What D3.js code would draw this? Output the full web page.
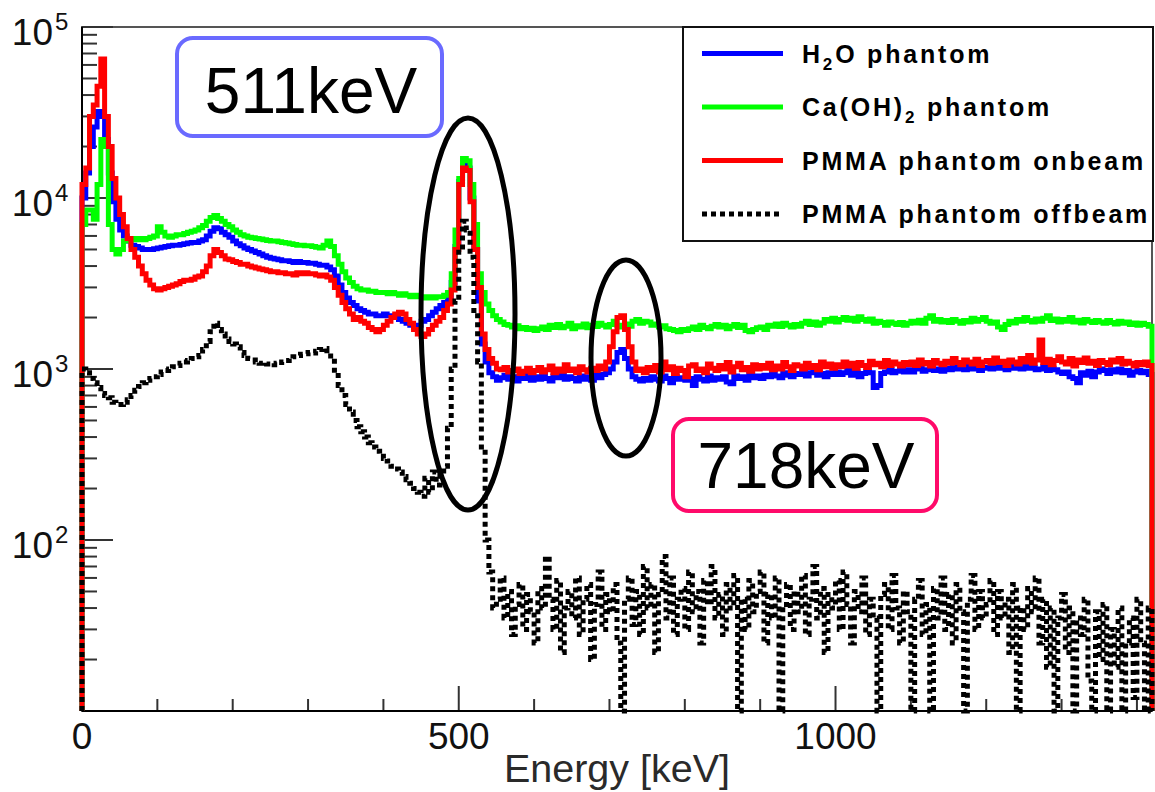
<!DOCTYPE html>
<html><head><meta charset="utf-8">
<script src="https://cdn.jsdelivr.net/npm/d3@7"></script>
<style>
body{margin:0;background:#fff;}
svg{display:block;}
text{font-family:"Liberation Sans",Arial,Helvetica,sans-serif;}
</style>
</head><body>
<svg id="chart" width="1155" height="792"></svg>
<script>
// ---- data (5 keV bins, 0..1420 keV) ----
const binWidth = 5;
const energyMax = 1420;

const h2o = [
 10000,14000,20000,26000,32000,30000,22000,14000,9500,7500,
 6500,6000,5600,5300,5200,5100,5000,5000,5000,5050,
 5100,5150,5200,5250,5300,5300,5350,5400,5450,5500,
 5500,5600,5700,6000,6400,6700,6600,6300,6100,5900,
 5600,5400,5250,5100,5000,4900,4800,4700,4600,4500,
 4450,4400,4350,4300,4300,4250,4200,4250,4200,4200,
 4150,4150,4100,4050,4050,3950,3800,3500,3100,2800,
 2600,2450,2350,2250,2200,2150,2100,2100,2050,2050,
 2100,2050,2050,2000,1950,1900,1850,1800,1750,1800,
 1900,1950,2050,2150,2250,2350,2450,2600,3200,5200,
 12500,15500,15000,10000,5000,2500,1400,1100,950,900,
 860,890,920,870,900,850,910,880,920,860,
 900,870,930,880,850,910,890,920,870,900,
 880,850,910,870,900,860,920,890,930,950,
 1000,1100,1250,1300,1150,1000,900,870,850,880,
 860,900,870,850,910,880,830,900,870,890,
 860,880,800,900,870,850,910,860,890,870,
 900,840,820,910,880,900,860,930,890,910,
 880,920,900,940,910,890,950,920,900,940,
 930,960,910,950,970,920,940,900,950,930,
 960,930,950,980,920,960,900,940,970,950,
 780,800,940,960,990,950,970,1000,960,990,
 960,1000,1010,970,990,1020,980,1000,970,1010,
 990,1030,1000,1020,990,1040,1000,1020,980,1010,
 1020,1000,1040,1010,1030,990,1040,1010,1030,1000,
 1040,1010,1020,990,1000,1030,980,1010,990,960,
 940,960,900,880,830,950,920,970,900,960,
 1000,980,940,990,960,1000,950,980,920,960,
 980,950,970,930
];

const caoh2 = [
 7000,8500,8500,7500,12000,22000,20000,7000,5000,4700,
 5000,5600,5700,5800,5700,5800,5700,5800,5900,6000,
 6800,6300,6000,5900,6000,6100,6100,6200,6300,6400,
 6500,6700,6900,7300,7700,7900,7600,7300,7000,6800,
 6500,6300,6100,6000,5900,5850,5800,5750,5700,5650,
 5600,5600,5550,5500,5450,5400,5350,5300,5300,5250,
 5250,5200,5150,5100,5300,5600,5200,4600,4100,3700,
 3400,3200,3050,2950,2900,2900,2850,2850,2800,2800,
 2800,2750,2800,2750,2700,2750,2700,2650,2700,2650,
 2650,2600,2650,2600,2650,2650,2700,2800,3600,6500,
 13000,17000,16500,12000,7000,3600,2800,2400,2200,2050,
 1950,1880,1820,1800,1760,1790,1720,1750,1700,1730,
 1680,1720,1760,1700,1800,1750,1820,1740,1780,1850,
 1720,1790,1760,1830,1740,1800,1770,1850,1800,1760,
 1820,1900,1800,1760,1830,1780,1900,1950,1850,1900,
 1880,1800,1830,1760,1790,1720,1700,1680,1650,1700,
 1680,1720,1760,1700,1800,1750,1720,1780,1820,1760,
 1800,1720,1780,1820,1750,1800,1680,1650,1700,1740,
 1760,1700,1800,1780,1830,1770,1850,1800,1760,1820,
 1780,1850,1900,1820,1880,1800,1860,1950,1900,1980,
 1880,1950,2000,1930,1980,1900,2020,1950,1900,1960,
 1850,1900,1870,1800,1880,1850,1820,1870,1800,1850,
 1900,1860,1930,1850,1980,2050,1900,1950,1880,1920,
 1870,1950,1900,1850,1920,1880,1980,1900,1950,2000,
 1900,1850,1880,1760,1700,1820,1900,1860,1950,1900,
 2000,1920,1880,1960,1900,1980,2050,1920,1960,1880,
 1950,1900,2000,1880,1930,1860,1950,1900,1870,1920,
 1880,1850,1920,1870,1830,1900,1850,1880,1820,1860,
 1800,1850,1820,1780
];

const pmmaOn = [
 12000,15000,30000,35000,45000,65000,30000,20000,13000,10000,
 8000,6800,5800,5000,4500,4000,3600,3300,3100,2950,
 2900,2950,3000,3050,3100,3150,3250,3300,3300,3350,
 3450,3500,3700,4000,4600,5000,4800,4600,4400,4350,
 4250,4200,4100,4100,4000,3950,3900,3850,3800,3750,
 3700,3700,3650,3650,3600,3600,3550,3650,3600,3650,
 3600,3600,3550,3500,3550,3450,3300,3000,2700,2450,
 2250,2100,1950,2000,1900,1850,1750,1700,1650,1700,
 1800,1900,2000,2100,2150,2100,1950,1850,1700,1600,
 1550,1600,1700,1800,1900,2000,2200,2400,2900,5000,
 12000,15000,14500,9500,5000,3000,1600,1300,1150,1080,
 1000,990,1020,960,980,1000,940,970,1010,950,
 980,1020,960,990,1040,950,1000,970,1060,980,
 1000,950,1030,990,960,1010,980,1040,1000,1100,
 1350,1650,2000,2050,1700,1350,1100,980,1000,950,
 1020,980,1050,960,1100,990,1030,940,1010,980,
 900,1040,1060,980,1000,950,1070,1010,980,1050,
 1000,1090,960,1030,1080,990,1020,970,1060,1000,
 1050,1010,1080,990,1040,1000,1090,1030,980,1060,
 1040,1000,1080,1020,1050,990,1100,1030,1070,1010,
 1060,1030,1100,1040,1080,1010,1090,1050,1020,1110,
 1060,1080,1030,1120,1050,1100,1070,1040,1090,1060,
 1100,1050,1130,1070,1090,1040,1120,1080,1060,1110,
 1080,1150,1090,1060,1130,1100,1070,1140,1050,1100,
 1120,1080,1160,1090,1110,1050,1130,1100,1070,1150,
 1100,1200,1080,1130,1480,1090,1140,1060,1120,1180,
 1100,1070,1150,1040,1130,1090,1160,1080,1110,1050,
 1120,1090,1060,1130,1100,1150,1070,1110,1080,1040,
 1090,1060,1100,1050
];

const pmmaOff = [
 1000,950,880,830,780,720,700,680,640,620,
 620,640,660,700,750,790,830,860,880,900,
 930,960,980,1000,1030,1050,1080,1100,1120,1150,
 1180,1200,1300,1450,1650,1850,1700,1600,1500,1450,
 1400,1350,1250,1200,1150,1130,1100,1080,1090,1070,
 1080,1060,1090,1100,1120,1150,1180,1200,1220,1230,
 1250,1240,1270,1300,1320,1280,1150,950,800,700,
 620,560,500,460,430,400,370,350,330,320,
 300,290,270,260,250,235,225,215,200,190,
 180,230,190,250,210,240,270,450,1000,2500,
 5000,7300,6500,4500,2200,1100,350,100,65,40,
 45,60,35,50,28,42,55,30,48,38,
 25,52,40,80,45,30,58,22,40,50,
 35,60,28,45,55,20,42,65,30,48,
 38,55,25,5,45,60,32,50,28,70,
 40,55,22,48,80,35,60,28,45,52,
 30,65,38,50,25,58,42,70,35,48,
 28,55,40,62,5,45,30,58,38,50,
 65,25,48,35,60,6,42,55,30,50,
 38,62,28,45,70,35,52,22,48,40,
 58,30,65,42,25,50,38,60,28,45,
 35,5,48,55,30,62,40,25,50,38,
 6,45,58,28,42,5,52,35,60,30,
 48,25,55,38,5,45,62,30,50,35,
 42,58,28,50,35,45,22,55,6,40,
 30,52,38,60,25,45,18,40,5,35,
 48,22,40,5,35,28,45,15,5,38,
 20,42,5,30,18,40,6,25,35,12,
 45,25,5,40
];

const xMajorTicks = [0, 500, 1000];
const xMinorTicks = [100, 200, 300, 400, 600, 700, 800, 900, 1100, 1200, 1300, 1400];
const yDecadeExps = [2, 3, 4, 5];
const yMinorMultipliers = [2, 3, 4, 5, 6, 7, 8, 9];
const xAxisTitle = "Energy [keV]";

const legendItems = [
  {parts: [["H",""],["2","sub"],["O phantom",""]], color: "#0000ff", dash: null},
  {parts: [["Ca(OH)",""],["2","sub"],[" phantom",""]], color: "#00ff00", dash: null},
  {parts: [["PMMA phantom onbeam",""]], color: "#ff0000", dash: null},
  {parts: [["PMMA phantom offbeam",""]], color: "#000000", dash: "5,4"}
];
const series = [
  {values: h2o, color: "#0000ff", width: 5, dash: null},
  {values: caoh2, color: "#00ff00", width: 5, dash: null},
  {values: pmmaOn, color: "#ff0000", width: 5, dash: null},
  {values: pmmaOff, color: "#000000", width: 5, dash: "5,4"}
];
const annotations = [
  {text: "511keV", color: "#6a6aff", box: [177, 38, 442, 136], tx: 311, ty: 113},
  {text: "718keV", color: "#ff0a6a", box: [673, 419, 937, 511], tx: 806, ty: 488}
];

// ---- layout ----
const svg = d3.select("#chart");
const L = 82, R = 1152, T = 27, B = 711;
const x = d3.scaleLinear().domain([0, energyMax]).range([L, R]);
const y = d3.scaleLog().domain([10, 1e5]).range([B, T]).clamp(true);

svg.append("defs").append("clipPath").attr("id", "plotclip")
  .append("rect").attr("x", L - 4).attr("y", T).attr("width", R - L + 8).attr("height", B - T + 3);

// frame
svg.append("rect").attr("x", L).attr("y", T).attr("width", R - L).attr("height", B - T)
  .attr("fill", "none").attr("stroke", "#555").attr("stroke-width", 2);

// ticks
const tickG = svg.append("g").attr("stroke", "#333").attr("stroke-width", 2);
xMajorTicks.forEach(v => tickG.append("line").attr("x1", x(v)).attr("x2", x(v)).attr("y1", B).attr("y2", B - 25));
xMinorTicks.forEach(v => tickG.append("line").attr("x1", x(v)).attr("x2", x(v)).attr("y1", B).attr("y2", B - 12));
yDecadeExps.forEach(e => tickG.append("line").attr("x1", L).attr("x2", L + 31).attr("y1", y(Math.pow(10, e))).attr("y2", y(Math.pow(10, e))));
[1, 2, 3, 4].forEach(e => yMinorMultipliers.forEach(m => {
  const v = m * Math.pow(10, e);
  tickG.append("line").attr("x1", L).attr("x2", L + 15).attr("y1", y(v)).attr("y2", y(v));
}));

// axis lines
svg.append("line").attr("x1", L).attr("x2", L).attr("y1", T).attr("y2", B).attr("stroke", "#000").attr("stroke-width", 2);
svg.append("line").attr("x1", L).attr("x2", R).attr("y1", B).attr("y2", B).attr("stroke", "#000").attr("stroke-width", 2);

// x tick labels
xMajorTicks.forEach(v => svg.append("text").attr("x", x(v)).attr("y", 749)
  .attr("text-anchor", "middle").attr("font-size", 37).attr("fill", "#111").text(v));
svg.append("text").attr("x", 617).attr("y", 782).attr("text-anchor", "middle")
  .attr("font-size", 39.5).attr("fill", "#2a2a2a").text(xAxisTitle);

// y tick labels
yDecadeExps.forEach(e => {
  const ty = y(Math.pow(10, e));
  svg.append("text").attr("x", 53).attr("y", ty + 18).attr("text-anchor", "end")
    .attr("font-size", 37).attr("fill", "#111").text("10");
  svg.append("text").attr("x", 55).attr("y", ty + 3).attr("text-anchor", "start")
    .attr("font-size", 24).attr("fill", "#111").text(e);
});

// series
const line = d3.line().x(d => x(d[0])).y(d => y(d[1])).curve(d3.curveStepAfter);
function stepPoints(vals) {
  const pts = [[0, 1]];
  vals.forEach((v, i) => pts.push([i * binWidth, v]));
  pts.push([vals.length * binWidth, vals[vals.length - 1]]);
  pts.push([vals.length * binWidth, 1]);
  return pts;
}
const dataG = svg.append("g").attr("clip-path", "url(#plotclip)");
series.forEach(s => {
  dataG.append("path").attr("d", line(stepPoints(s.values)))
    .attr("fill", "none").attr("stroke", s.color).attr("stroke-width", s.width)
    .attr("stroke-dasharray", s.dash).attr("stroke-linejoin", "miter");
});

// legend
const lg = svg.append("g");
lg.append("rect").attr("x", 683).attr("y", 27).attr("width", 470).attr("height", 214)
  .attr("fill", "#fff").attr("stroke", "#111").attr("stroke-width", 2);
legendItems.forEach((it, i) => {
  const ly = 53.5 + i * 53.5;
  lg.append("line").attr("x1", 702).attr("x2", 783).attr("y1", ly).attr("y2", ly)
    .attr("stroke", it.color).attr("stroke-width", 5).attr("stroke-dasharray", it.dash);
  const t = lg.append("text").attr("x", 802).attr("y", ly + 9).attr("font-size", 25)
    .attr("font-weight", "bold").attr("letter-spacing", 2.8).attr("fill", "#000");
  let shifted = false;
  it.parts.forEach(p => {
    const ts = t.append("tspan").text(p[0]);
    if (p[1] === "sub") { ts.attr("font-size", 17).attr("dy", 7); shifted = true; }
    else if (shifted) { ts.attr("dy", -7); shifted = false; }
  });
});

// annotations
annotations.forEach(a => {
  const [x0, y0, x1, y1] = a.box;
  svg.append("rect").attr("x", x0).attr("y", y0).attr("width", x1 - x0).attr("height", y1 - y0)
    .attr("rx", 16).attr("ry", 16).attr("fill", "#fff").attr("stroke", a.color).attr("stroke-width", 4);
  svg.append("text").attr("x", a.tx).attr("y", a.ty).attr("text-anchor", "middle")
    .attr("font-size", 64).attr("fill", "#000").text(a.text);
});
svg.append("ellipse").attr("cx", 468).attr("cy", 314).attr("rx", 47).attr("ry", 196)
  .attr("fill", "none").attr("stroke", "#000").attr("stroke-width", 5);
svg.append("ellipse").attr("cx", 626).attr("cy", 358).attr("rx", 35).attr("ry", 98)
  .attr("fill", "none").attr("stroke", "#000").attr("stroke-width", 5);
</script>
</body></html>
